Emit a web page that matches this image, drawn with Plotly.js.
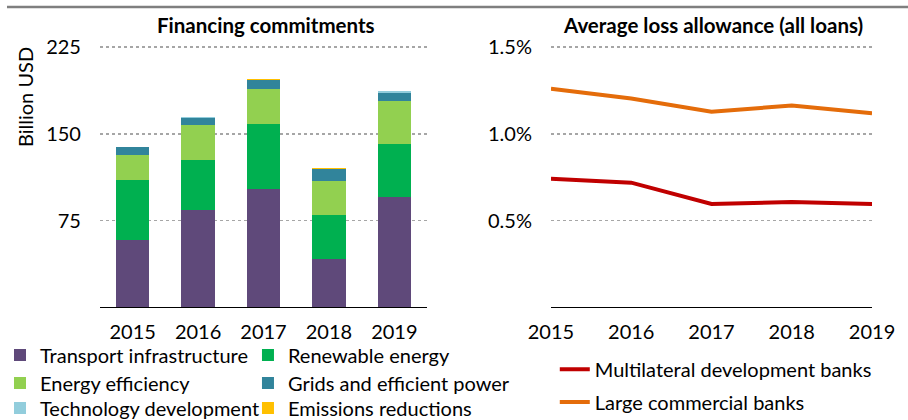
<!DOCTYPE html>
<html>
<head>
<meta charset="utf-8">
<script src="https://cdn.plot.ly/plotly-3.0.1.min.js"></script>
<style>html,body{margin:0;padding:0;background:#fff;}#chart{width:908px;height:420px;}</style>
</head>
<body>
<div id="chart"></div>
<script>
// ---- data ----
const years = [2015, 2016, 2017, 2018, 2019];
const yearLabels = ['2015', '2016', '2017', '2018', '2019'];
const transport = [58.5, 84, 102.5, 42, 95.5];
const renewable = [52, 43, 56, 38, 46];
const efficiency = [21.5, 30.5, 30, 29.5, 37];
const grids = [6.5, 6.5, 8, 10, 6.5];
const technology = [0.3, 0.3, 0.3, 0.3, 1.8];
const emissions = [0.2, 0.2, 0.2, 0.5, 0.2];
const mdb = [0.00742, 0.00719, 0.00596, 0.00608, 0.00596];
const lcb = [0.0126, 0.01204, 0.01127, 0.01163, 0.01119];
const leftTicks = [75, 150, 225];
const rightTicks = [0.005, 0.010, 0.015];

const FONT = 'Lato, Carlito, Calibri, "Noto Sans", sans-serif';

function barTrace(name, vals, color, legend) {
  return {type: 'bar', name: name, x: yearLabels, y: vals, xaxis: 'x', yaxis: 'y',
    marker: {color: color, line: {width: 0}}, legend: legend, hoverinfo: 'name+y'};
}
const traces = [
  barTrace('Transport infrastructure', transport, '#5F497A', 'legend'),
  barTrace('Renewable energy', renewable, '#00B050', 'legend2'),
  barTrace('Energy efficiency', efficiency, '#92D050', 'legend3'),
  barTrace('Grids and efficient power', grids, '#31849B', 'legend4'),
  barTrace('Technology development', technology, '#92CDDC', 'legend5'),
  barTrace('Emissions reductions', emissions, '#FFC000', 'legend6'),
  {type: 'scatter', mode: 'lines', name: 'Multilateral development banks', x: years, y: mdb,
    xaxis: 'x2', yaxis: 'y2', line: {color: '#C00000', width: 4}, legend: 'legend7'},
  {type: 'scatter', mode: 'lines', name: 'Large commercial banks', x: years, y: lcb,
    xaxis: 'x2', yaxis: 'y2', line: {color: '#E46C0A', width: 4}, legend: 'legend8'}
];

const gridStyle = {showgrid: true, gridcolor: '#A6A6A6', griddash: 'dot', gridwidth: 1.5};
const legendBase = {orientation: 'h', xref: 'paper', yref: 'paper', xanchor: 'left', yanchor: 'middle',
  font: {family: FONT, size: 20, color: '#000'}, bgcolor: 'rgba(0,0,0,0)', borderwidth: 0};
const col1 = 0.0, col2 = 0.2731;
const row1 = 0.1548, row2 = 0.0881, row3 = 0.0286;

const layout = {
  width: 908, height: 420,
  margin: {l: 0, r: 0, t: 0, b: 0, autoexpand: false},
  paper_bgcolor: '#fff', plot_bgcolor: '#fff',
  font: {family: FONT, size: 20, color: '#000'},
  barmode: 'stack', bargap: 0.49,
  showlegend: true,
  xaxis: {domain: [0.1101, 0.4703], anchor: 'y', type: 'category', showline: true, linecolor: '#000', linewidth: 1,
    ticks: '', ticklabelstandoff: 7, tickfont: {size: 20}, fixedrange: true},
  yaxis: {domain: [0.2679, 0.8908], anchor: 'x', range: [0, 226], tickvals: leftTicks, ticktext: leftTicks.map(String),
    ...gridStyle, zeroline: false, showline: false, ticks: '', ticklabelstandoff: 18, tickfont: {size: 20}},
  xaxis2: {domain: [0.6068, 0.9604], anchor: 'y2', range: [2015, 2019], tickvals: years, ticktext: yearLabels,
    showline: true, linecolor: '#000', linewidth: 1, ticks: '', ticklabelstandoff: 7, tickfont: {size: 20}, showgrid: false, zeroline: false},
  yaxis2: {domain: [0.2679, 0.8908], anchor: 'x2', range: [0, 0.0150667], tickvals: rightTicks, tickformat: '.1%',
    ...gridStyle, zeroline: false, showline: false, ticks: '', ticklabelstandoff: 18, tickfont: {size: 20}},
  legend:  {...legendBase, x: col1, y: row1},
  legend2: {...legendBase, x: col2, y: row1},
  legend3: {...legendBase, x: col1, y: row2},
  legend4: {...legendBase, x: col2, y: row2},
  legend5: {...legendBase, x: col1, y: row3},
  legend6: {...legendBase, x: col2, y: row3},
  legend7: {...legendBase, x: 0.611, y: 0.121},
  legend8: {...legendBase, x: 0.611, y: 0.043},
  annotations: [
    {text: '<b>Financing commitments</b>', xref: 'paper', yref: 'paper', x: 0.2927, y: 0.9405,
      xanchor: 'center', yanchor: 'middle', showarrow: false, font: {family: FONT, size: 20.5, color: '#000'}},
    {text: '<b>Average loss allowance (all loans)</b>', xref: 'paper', yref: 'paper', x: 0.7847, y: 0.9405,
      xanchor: 'center', yanchor: 'middle', showarrow: false, font: {family: FONT, size: 20.5, color: '#000'}},
    {text: 'Billion USD', xref: 'paper', yref: 'paper', x: 0.0275, y: 0.769, textangle: -90,
      xanchor: 'center', yanchor: 'middle', showarrow: false, font: {family: FONT, size: 20, color: '#000'}}
  ],
  shapes: [
    {type: 'line', xref: 'paper', yref: 'paper', x0: 0.0077, x1: 1, y0: 0.9833, y1: 0.9833,
      line: {color: '#7F7F7F', width: 2.5}}
  ]
};

Plotly.newPlot('chart', traces, layout, {displayModeBar: false, staticPlot: true});
</script>
</body>
</html>
